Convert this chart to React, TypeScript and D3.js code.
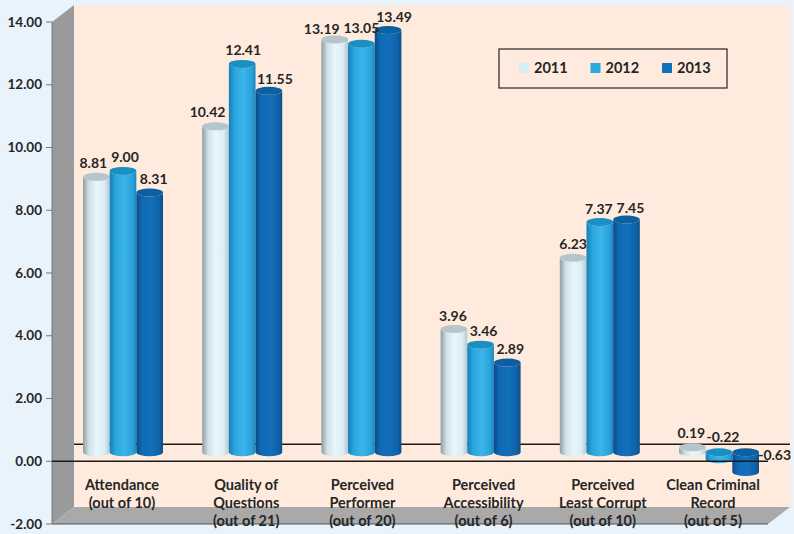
import React from "react";
import * as d3 from "d3";

const categories = [
  ["Attendance", "(out of 10)"],
  ["Quality of", "Questions", "(out of 21)"],
  ["Perceived", "Performer", "(out of 20)"],
  ["Perceived", "Accessibility", "(out of 6)"],
  ["Perceived", "Least Corrupt", "(out of 10)"],
  ["Clean Criminal", "Record", "(out of 5)"],
];
const seriesNames = ["2011", "2012", "2013"];
const values2011 = [8.81, 10.42, 13.19, 3.96, 6.23, 0.19];
const values2012 = [9.0, 12.41, 13.05, 3.46, 7.37, -0.22];
const values2013 = [8.31, 11.55, 13.49, 2.89, 7.45, -0.63];
const allValues = [values2011, values2012, values2013];
const tickValues = [-2, 0, 2, 4, 6, 8, 10, 12, 14];

const FONT = "Lato, 'Open Sans', sans-serif";
const TXT = "#262626";
const legendColors = ["#d6eef8", "#29abe2", "#1170bb"];
const topColors = ["#b4c6cc", "#1a8fc2", "#0c5fa0"];
const stops = [
  [["0", "#8f9da3"], ["0.22", "#cfe0e7"], ["0.5", "#e8f6fc"], ["0.8", "#dcedf5"], ["1", "#b5c8d1"]],
  [["0", "#157fb5"], ["0.22", "#2aa5de"], ["0.55", "#3cb5ea"], ["0.85", "#2aa2da"], ["1", "#1b87bf"]],
  [["0", "#0b4a85"], ["0.2", "#1069b4"], ["0.55", "#146fbb"], ["0.85", "#0f63a9"], ["1", "#0b4f8c"]],
];

// label nudges per series (rows) and category (columns)
const labelDx = [
  [-3, -8, -13, -1, 0, -1],
  [2, 1, 0, 3, -1, 4],
  [4, 6, 6, 3, 4, 29],
];
const labelDy = [
  [-9, -9, -5, -8, -9, -9],
  [-9, -9, -11, -9, -8, -11],
  [-9, -7, -8, -9, -7, 7],
];
const catDx = [-1, 4, 1, 3, 3, -6];

const y = d3.scaleLinear().domain([-2, 14]).range([524, 22]);
const x0 = d3.scaleBand<number>().domain(d3.range(6)).range([63.4, 778.6]);
const x1 = d3.scaleBand<number>().domain([0, 1, 2]).range([19.6, 19.6 + 80]);

const DX = 22;
const DY = -17;
const BASE_SHIFT = -9;
const TOP_SHIFT = -8;
const RY = 4;

function cylinder(x: number, w: number, yTop: number, yBot: number) {
  const rx = w / 2;
  return `M${x},${yTop}L${x},${yBot}A${rx},${RY} 0 0 0 ${x + w},${yBot}L${x + w},${yTop}A${rx},${RY} 0 0 1 ${x},${yTop}Z`;
}

export default function App() {
  const left = 52;
  const right = 768;
  return (
    <svg
      width={794}
      height={534}
      style={{ position: "fixed", left: 0, top: 0, background: "#e9f3fb", fontFamily: FONT }}
    >
      <defs>
        {stops.map((s, i) => (
          <linearGradient key={i} id={`g${i}`} x1="0" x2="1" y1="0" y2="0">
            {s.map(([o, c]) => (
              <stop key={o} offset={o} stopColor={c} />
            ))}
          </linearGradient>
        ))}
      </defs>
      <rect x={left + DX} y={y(14) + DY} width={right - left + 1} height={y(-2) - y(14)} fill="#feebdd" />
      <polygon
        points={`${left},${y(14)} ${left + DX},${y(14) + DY} ${left + DX},${y(-2) + DY} ${left},${y(-2)}`}
        fill="#999a9b"
      />
      <polygon
        points={`${left},${y(-2)} ${left + DX},${y(-2) + DY} ${right + DX},${y(-2) + DY} ${right},${y(-2)}`}
        fill="#a9a9a9"
      />
      <line x1={left + DX} x2={right + DX} y1={y(0) + DY} y2={y(0) + DY} stroke="#1a1a1a" strokeWidth={1.4} />
      <line x1={left} x2={left} y1={y(14)} y2={y(-2)} stroke="#777" strokeWidth={1} />
      <line x1={left} x2={right} y1={y(-2)} y2={y(-2)} stroke="#555" strokeWidth={1.2} />
      {tickValues.map((t) => (
        <g key={t}>
          <line x1={left - 6} x2={left} y1={y(t)} y2={y(t)} stroke="#777" />
          <text x={42} y={y(t)} dy="0.35em" textAnchor="end" fontSize={13.5} fontWeight={700} fill={TXT}>
            {t.toFixed(2)}
          </text>
        </g>
      ))}
      {categories.map((_, c) =>
        allValues.map((vals, s) => {
          const v = vals[c];
          const bx = x0(c)! + x1(s)!;
          const w = x1.bandwidth();
          const yZero = y(0) + BASE_SHIFT;
          const yV = y(v) + (v >= 0 ? TOP_SHIFT : BASE_SHIFT);
          const yTop = Math.min(yV, yZero);
          const yBot = Math.max(yV, yZero);
          return (
            <g key={`${c}-${s}`}>
              <path d={cylinder(bx, w, yTop, yBot)} fill={`url(#g${s})`} />
              <ellipse cx={bx + w / 2} cy={yTop} rx={w / 2} ry={RY} fill={topColors[s]} />
            </g>
          );
        })
      )}
      <line x1={left} x2={right} y1={y(0)} y2={y(0)} stroke="#1a1a1a" strokeWidth={1.4} />
      {categories.map((_, c) =>
        allValues.map((vals, s) => {
          const v = vals[c];
          const bx = x0(c)! + x1(s)!;
          const w = x1.bandwidth();
          return (
            <text
              key={`l${c}-${s}`}
              x={bx + w / 2 + labelDx[s][c]}
              y={y(Math.max(v, 0)) + TOP_SHIFT + labelDy[s][c]}
              textAnchor="middle"
              fontSize={14}
              fontWeight={700}
              fill={TXT}
            >
              {v < 0 ? "-" + Math.abs(v).toFixed(2) : v.toFixed(2)}
            </text>
          );
        })
      )}
      {categories.map((lines, c) =>
        lines.map((t, i) => (
          <text
            key={t + c}
            x={x0(c)! + x0.bandwidth() / 2 + catDx[c]}
            y={490 + i * 18}
            textAnchor="middle"
            fontSize={14.5}
            fontWeight={700}
            fill={TXT}
          >
            {t}
          </text>
        ))
      )}
      <rect x={499} y={49} width={228} height={39} fill="none" stroke="#333" strokeWidth={1.3} />
      {seriesNames.map((n, i) => (
        <g key={n}>
          <rect x={519 + i * 71.5} y={63} width={10} height={10} fill={legendColors[i]} />
          <text x={534 + i * 71.5} y={73} fontSize={14.5} fontWeight={700} fill={TXT}>
            {n}
          </text>
        </g>
      ))}
    </svg>
  );
}
